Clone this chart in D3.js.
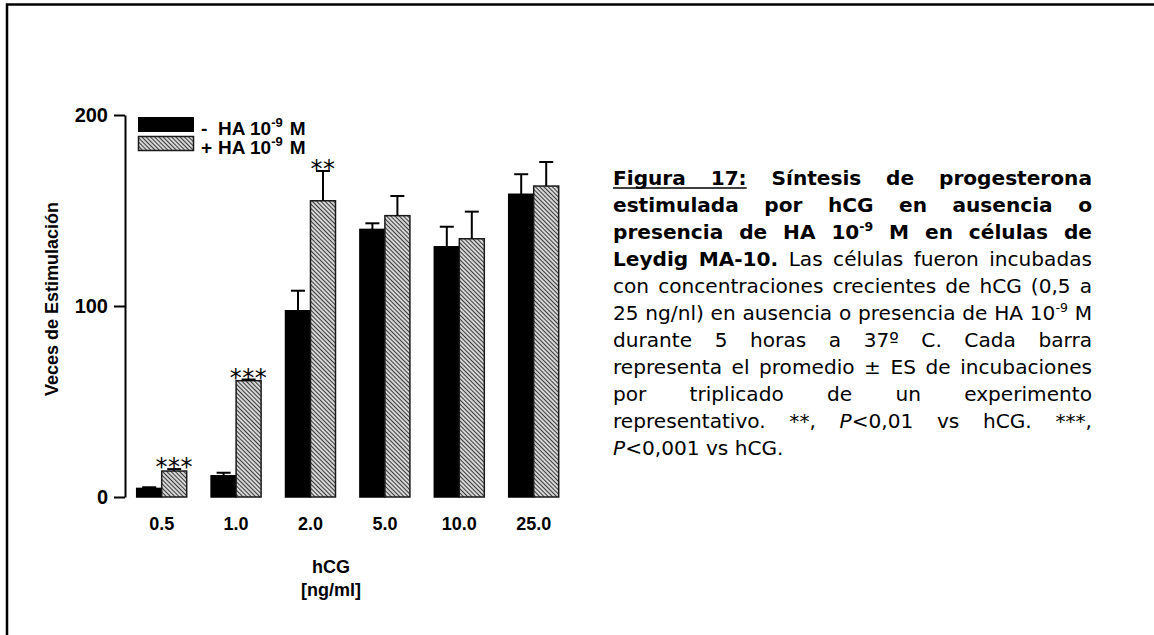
<!DOCTYPE html>
<html>
<head>
<meta charset="utf-8">
<script src="https://cdn.jsdelivr.net/npm/d3@7"></script>
<style>
  body { margin: 0; background: #fff; }
  svg { display: block; }
</style>
</head>
<body>
<div id="chart"></div>
<script>
// hCG concentrations (ng/ml)
var categories = ["0.5", "1.0", "2.0", "5.0", "10.0", "25.0"];
// fold stimulation, without / with HA 10-9 M
var controlValues = [4.5, 11.1, 97.5, 140.1, 131.0, 158.5];
var controlErrors = [0.6, 1.6, 10.5, 3.2, 10.5, 10.5];
var haValues = [13.6, 60.9, 155.1, 147.3, 135.2, 162.8];
var haErrors = [1.0, 0.6, 15.6, 10.3, 14.2, 12.6];
var haStars = ["***", "***", "**", "", "", ""];
var yTicks = [0, 100, 200];

// caption, one entry per printed line
var captionLines = [
  "{b}{u}Figura 17:{/u} Síntesis de progesterona{/b}",
  "{b}estimulada por hCG en ausencia o{/b}",
  "{b}presencia de HA 10{sup}-9{/sup} M en células de{/b}",
  "{b}Leydig MA-10.{/b} Las células fueron incubadas",
  "con concentraciones crecientes de hCG (0,5 a",
  "25 ng/nl) en ausencia o presencia de HA 10{sup}-9{/sup} M",
  "durante 5 horas a 37º C. Cada barra",
  "representa el promedio ± ES de incubaciones",
  "por triplicado de un experimento",
  "representativo. **, {i}P{/i}<0,01 vs hCG. ***,",
  "{i}P{/i}<0,001 vs hCG."
];

var W = 1154, H = 635;
var arial = "'Liberation Sans', Arial, sans-serif";
var verdana = "'DejaVu Sans', Verdana, sans-serif";

var svg = d3.select("#chart").append("svg").attr("width", W).attr("height", H);

// hatch pattern for the HA bars
var defs = svg.append("defs");
var pat = defs.append("pattern")
  .attr("id", "hatch")
  .attr("patternUnits", "userSpaceOnUse")
  .attr("width", 3).attr("height", 3)
  .attr("patternTransform", "rotate(-45)");
pat.append("rect").attr("width", 3).attr("height", 3).attr("fill", "#d6d6d6");
pat.append("line").attr("x1", 0.5).attr("y1", 0).attr("x2", 0.5).attr("y2", 3)
  .attr("stroke", "#3a3a3a").attr("stroke-width", 1);

// page frame
svg.append("path")
  .attr("d", "M7," + H + "V4.5H" + W)
  .attr("fill", "none").attr("stroke", "#000").attr("stroke-width", 2.5);

// scales
var y = d3.scaleLinear().domain([0, 200]).range([497, 115]);
var x = d3.scaleBand().domain(categories).range([136.7, 558.7]).paddingInner(0.328).paddingOuter(0);
var xs = d3.scaleBand().domain([0, 1]).range([0, x.bandwidth()]);

// y axis
var yAxis = svg.append("g")
  .attr("transform", "translate(125,0)")
  .call(d3.axisLeft(y).tickValues(yTicks).tickSize(11).tickSizeOuter(0).tickPadding(6).tickFormat(d3.format("d")));
yAxis.select(".domain").attr("stroke-width", 2);
yAxis.selectAll(".tick line").attr("stroke-width", 2);
yAxis.selectAll("text").attr("font-family", arial).attr("font-weight", "bold").attr("font-size", 20).attr("fill", "#000");

// x axis labels only
var xAxis = svg.append("g")
  .attr("transform", "translate(0,497)")
  .call(d3.axisBottom(x).tickSize(0).tickPadding(20));
xAxis.select(".domain").remove();
xAxis.selectAll("text").attr("font-family", arial).attr("font-weight", "bold").attr("font-size", 18).attr("fill", "#000");

// axis titles
svg.append("text")
  .attr("transform", "translate(58,299) rotate(-90)")
  .attr("text-anchor", "middle")
  .attr("font-family", arial).attr("font-weight", "bold").attr("font-size", 18)
  .text("Veces de Estimulación");

svg.append("text").attr("x", 331).attr("y", 573).attr("text-anchor", "middle")
  .attr("font-family", arial).attr("font-weight", "bold").attr("font-size", 18).text("hCG");
svg.append("text").attr("x", 331).attr("y", 596).attr("text-anchor", "middle")
  .attr("font-family", arial).attr("font-weight", "bold").attr("font-size", 18).text("[ng/ml]");

// bars
var rows = categories.map(function (c, i) {
  return [
    { cat: c, k: 0, v: controlValues[i], e: controlErrors[i], s: "" },
    { cat: c, k: 1, v: haValues[i], e: haErrors[i], s: haStars[i] }
  ];
});
var bars = d3.merge(rows);

var g = svg.append("g");
g.selectAll("rect.bar")
  .data(bars)
  .enter()
  .append("rect")
  .attr("class", "bar")
  .attr("x", function (d) { return x(d.cat) + xs(d.k); })
  .attr("width", xs.bandwidth())
  .attr("y", function (d) { return y(d.v); })
  .attr("height", function (d) { return y(0) - y(d.v); })
  .attr("fill", function (d) { return d.k ? "url(#hatch)" : "#000"; })
  .attr("stroke", function (d) { return d.k ? "#1a1a1a" : "#000"; })
  .attr("stroke-width", 1.5);

// error bars (upper only)
var cx = function (d) { return x(d.cat) + xs(d.k) + xs.bandwidth() / 2; };
g.selectAll("line.err")
  .data(bars)
  .enter()
  .append("line")
  .attr("x1", cx).attr("x2", cx)
  .attr("y1", function (d) { return y(d.v); })
  .attr("y2", function (d) { return y(d.v + d.e); })
  .attr("stroke", "#000").attr("stroke-width", 2);
g.selectAll("line.cap")
  .data(bars)
  .enter()
  .append("line")
  .attr("x1", function (d) { return cx(d) - 7; })
  .attr("x2", function (d) { return cx(d) + 7; })
  .attr("y1", function (d) { return y(d.v + d.e); })
  .attr("y2", function (d) { return y(d.v + d.e); })
  .attr("stroke", "#000").attr("stroke-width", 2);

// significance stars
g.selectAll("text.star")
  .data(bars.filter(function (d) { return d.s; }))
  .enter()
  .append("text")
  .attr("x", cx)
  .attr("y", function (d) { return y(d.v + d.e) + 6; })
  .attr("text-anchor", "middle")
  .attr("font-family", verdana).attr("font-size", 24)
  .attr("letter-spacing", 0.5)
  .text(function (d) { return d.s; });

// legend
var legend = svg.append("g");
legend.append("rect").attr("x", 138).attr("y", 117).attr("width", 56).attr("height", 15).attr("fill", "#000");
legend.append("rect").attr("x", 138.5).attr("y", 136.5).attr("width", 55).attr("height", 14)
  .attr("fill", "url(#hatch)").attr("stroke", "#1a1a1a").attr("stroke-width", 1.5);
var legendRows = [["-", 135], ["+", 154]];
legendRows.forEach(function (r) {
  var t = legend.append("text").attr("y", r[1])
    .attr("font-family", arial).attr("font-weight", "bold").attr("font-size", 19);
  t.append("tspan").attr("x", 201).text(r[0]);
  t.append("tspan").attr("x", 218).text("HA 10");
  t.append("tspan").attr("dy", -8).attr("font-size", 13).text("-9");
  t.append("tspan").attr("dy", 8).attr("dx", 7).text("M");
});

// caption, justified word by word
function parseLine(line) {
  var words = [], cur = [], st = { b: 0, u: 0, i: 0, sup: 0 };
  var re = /\{(\/?)(b|u|i|sup)\}|([^{\s]+)|(\s+)/g, m;
  while ((m = re.exec(line))) {
    if (m[2]) st[m[2]] = m[1] ? 0 : 1;
    else if (m[3]) cur.push({ t: m[3], b: st.b, u: st.u, i: st.i, sup: st.sup });
    else if (m[4]) { if (cur.length) words.push(cur); cur = []; }
  }
  if (cur.length) words.push(cur);
  return words;
}

var capX = 613, capW = 479, capY0 = 185, capDy = 27;
var capG = svg.append("g");

function drawWord(parent, pieces, fs) {
  var t = parent.append("text").attr("font-family", verdana).attr("font-size", fs).attr("fill", "#000");
  var shifted = 0;
  pieces.forEach(function (p) {
    var ts = t.append("tspan").text(p.t)
      .attr("font-weight", p.b ? "bold" : "normal")
      .attr("font-style", p.i ? "italic" : "normal");
    if (p.sup) {
      ts.attr("font-size", fs * 0.62).attr("dy", -fs * 0.38);
      shifted = 1;
    } else if (shifted) {
      ts.attr("dy", fs * 0.38);
      shifted = 0;
    }
  });
  return t;
}

var parsed = captionLines.map(parseLine);

// font size from the plain (non-bold) full lines
var probe = capG.append("g");
var baseFs = 16;
var maxNat = 0;
parsed.forEach(function (words, li) {
  if (li < 4 || li === parsed.length - 1) return;
  var tot = 0;
  words.forEach(function (w) { tot += drawWord(probe, w, baseFs).node().getComputedTextLength(); });
  tot += (words.length - 1) * 0.318 * baseFs;
  if (tot > maxNat) maxNat = tot;
});
probe.remove();
var fs = Math.max(13, Math.min(22, baseFs * 476 / maxNat));

parsed.forEach(function (words, li) {
  var yy = capY0 + li * capDy;
  var nodes = words.map(function (w) { return drawWord(capG, w, fs).attr("y", yy); });
  var widths = nodes.map(function (n) { return n.node().getComputedTextLength(); });
  var sum = d3.sum(widths);
  var minGap = 0.2 * fs;
  if (sum + (words.length - 1) * minGap > capW) {
    // squeeze overlong lines so they still fit the column
    var k = (capW - (words.length - 1) * minGap) / sum;
    nodes.forEach(function (n, j) {
      n.attr("textLength", widths[j] * k).attr("lengthAdjust", "spacingAndGlyphs");
      widths[j] *= k;
    });
    sum = d3.sum(widths);
  }
  var last = li === parsed.length - 1;
  var gap = last ? 0.318 * fs : (capW - sum) / (words.length - 1);
  var xx = capX, uStart = null, uEnd = null;
  nodes.forEach(function (n, k) {
    n.attr("x", xx);
    if (words[k][0].u) { if (uStart === null) uStart = xx; uEnd = xx + widths[k]; }
    xx += widths[k] + gap;
  });
  if (uStart !== null) {
    capG.append("line").attr("x1", uStart).attr("x2", uEnd)
      .attr("y1", yy + 3).attr("y2", yy + 3)
      .attr("stroke", "#000").attr("stroke-width", 1.4);
  }
});
</script>
</body>
</html>
